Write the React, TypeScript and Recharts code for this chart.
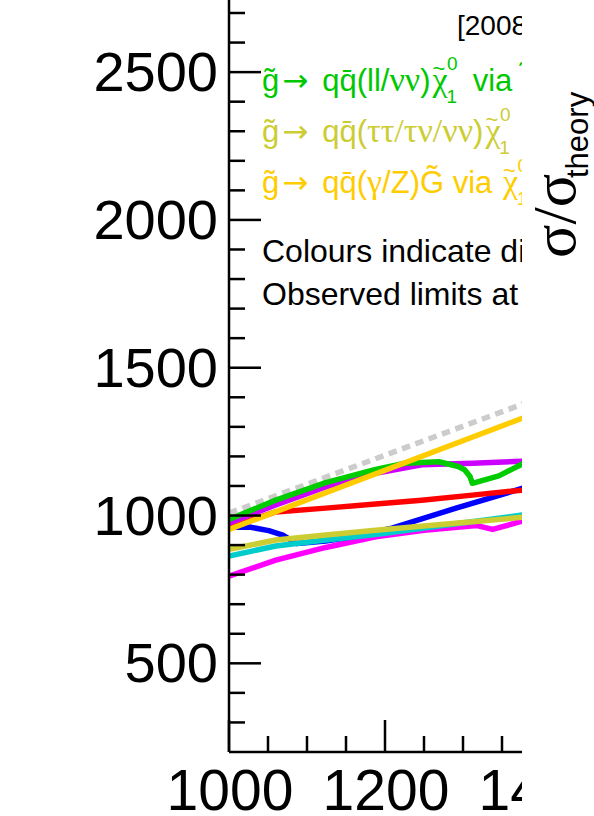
import { LineChart, Line, XAxis, YAxis } from 'recharts'

// limit contours, [x, y]
const grayDiagonal = [[1000, 1008], [1400, 1400]]
const magentaLimit = [[1000, 795], [1060, 849], [1124, 892], [1188, 928], [1250, 950], [1300, 962], [1318, 966], [1338, 953], [1380, 984]]
const blueLimit = [[1000, 960], [1026, 961], [1051, 949], [1069, 934], [1079, 917], [1087, 905], [1124, 914], [1160, 929], [1209, 957], [1290, 1024], [1380, 1095]]
const cyanLimit = [[1000, 863], [1060, 897], [1124, 917], [1188, 936], [1279, 968], [1380, 1003]]
const oliveLimit = [[1000, 886], [1060, 917], [1124, 934], [1188, 950], [1279, 971], [1380, 995]]
const redLimit = [[1000, 955], [1030, 986], [1060, 1012], [1124, 1025], [1188, 1039], [1247, 1052], [1312, 1069], [1380, 1087]]
const purpleLimit = [[1000, 975], [1060, 1036], [1124, 1097], [1188, 1143], [1247, 1172], [1312, 1177], [1380, 1184]]
const greenLimit = [[1000, 987], [1060, 1052], [1124, 1111], [1188, 1156], [1226, 1177], [1269, 1182], [1294, 1166], [1302, 1155], [1309, 1132], [1312, 1109], [1346, 1134], [1380, 1180]]
const yellowLimit = [[1000, 953], [1380, 1333]]

const xMajorTicks = [1000, 1200, 1400, 1600]
const xMinorTicks = [1050, 1100, 1150, 1250, 1300, 1350, 1450, 1500, 1550]
const yMajorTicks = [500, 1000, 1500, 2000, 2500]
const yMinorTicks = [300, 400, 600, 700, 800, 900, 1100, 1200, 1300, 1400, 1600, 1700, 1800, 1900, 2100, 2200, 2300, 2400, 2600, 2700]

const FONT = '"Liberation Sans", Arial, Helvetica, sans-serif'
const SERIF = '"Liberation Serif", "Times New Roman", serif'
const ARROW = '"DejaVu Sans", sans-serif'

const toRows = (pts: number[][]) => pts.map(([x, y]) => ({ x, y }))

const series = [
  { key: 'gray', data: grayDiagonal, color: '#cccccc', dash: '8.5 5.7' },
  { key: 'magenta', data: magentaLimit, color: '#ff00ff' },
  { key: 'blue', data: blueLimit, color: '#0000ff' },
  { key: 'cyan', data: cyanLimit, color: '#00cccc' },
  { key: 'olive', data: oliveLimit, color: '#cccc33' },
  { key: 'red', data: redLimit, color: '#ff0000' },
  { key: 'purple', data: purpleLimit, color: '#cc00ff' },
  { key: 'green', data: greenLimit, color: '#00cc00' },
  { key: 'yellow', data: yellowLimit, color: '#ffcc00' },
]

const YTick = (props: any) => {
  const { x, y, payload } = props
  const major = yMajorTicks.includes(payload.value)
  return (
    <g>
      <line x1={x} x2={x + (major ? 32 : 16)} y1={y} y2={y} stroke="#000" strokeWidth={2.5} />
      {major && (
        <text x={x - 11} y={y + 19} textAnchor="end" fontSize={56} fontFamily={FONT} fill="#000">
          {payload.value}
        </text>
      )}
    </g>
  )
}

const XTick = (props: any) => {
  const { x, y, payload } = props
  const major = xMajorTicks.includes(payload.value)
  return (
    <g>
      <line x1={x} x2={x} y1={y} y2={y - (major ? 32 : 16)} stroke="#000" strokeWidth={2.5} />
      {major && (
        <text x={x + 1} y={y + 58} textAnchor="middle" fontSize={57} fontFamily={FONT} fill="#000">
          {payload.value}
        </text>
      )}
    </g>
  )
}

// g~ -> q qbar
function Head() {
  return (
    <>
      {'g\u0303'}
      <tspan fontFamily={ARROW} dx={3}>{'\u2192'}</tspan>
      <tspan dx={14}>{'qq\u0304('}</tspan>
    </>
  )
}

// chi~ with sub 1 and sup 0, ends back on the baseline
function Chi() {
  return (
    <>
      <tspan fontFamily={SERIF} fontSize={34} dx={2}>χ</tspan>
      <tspan fontSize={22} dx={-15} dy={-15}>~</tspan>
      <tspan fontSize={19} dx={1} dy={27}>1</tspan>
      <tspan fontSize={19} dx={-10} dy={-33}>0</tspan>
    </>
  )
}

export default function App() {
  const xTicks = [...xMajorTicks, ...xMinorTicks].sort((a, b) => a - b)
  const yTicks = [...yMajorTicks, ...yMinorTicks].sort((a, b) => a - b)
  return (
    <div style={{ position: 'absolute', left: 0, top: 0, width: 594, height: 816, background: '#fff', overflow: 'hidden' }}>
      <div style={{ position: 'absolute', left: 0, top: 0, width: 522, height: 816, overflow: 'hidden' }}>
        <LineChart width={736} height={816} margin={{ top: 0, right: 0, left: 0, bottom: 0 }}>
          <XAxis
            type="number"
            dataKey="x"
            domain={[1000, 1650]}
            allowDataOverflow
            ticks={xTicks}
            interval={0}
            height={64}
            tickSize={0}
            tickMargin={0}
            tickLine={false}
            tick={<XTick />}
            axisLine={{ stroke: '#000', strokeWidth: 2.5 }}
          />
          <YAxis
            type="number"
            domain={[200, 2744]}
            allowDataOverflow
            ticks={yTicks}
            interval={0}
            width={229}
            tickSize={0}
            tickMargin={0}
            tickLine={false}
            tick={<YTick />}
            axisLine={{ stroke: '#000', strokeWidth: 2.5 }}
          />
          {series.map((s) => (
            <Line
              key={s.key}
              data={toRows(s.data)}
              dataKey="y"
              type="linear"
              stroke={s.color}
              strokeWidth={5.5}
              strokeDasharray={s.dash}
              strokeLinejoin="round"
              dot={false}
              activeDot={false}
              isAnimationActive={false}
            />
          ))}
        </LineChart>
        <svg width={522} height={816} style={{ position: 'absolute', left: 0, top: 0 }} fontFamily={FONT}>
          <text x={457} y={35} fontSize={28} fill="#000">[2008.06032]</text>
          <text x={262} y={91} fontSize={31} fill="#00c800">
            <Head />
            {'ll/'}
            <tspan fontFamily={SERIF} fontSize={34}>νν</tspan>)
            <Chi />
            <tspan dy={21} dx={15}>{'via l\u0303/\u03bd\u0303'}</tspan>
          </text>
          <text x={262} y={142} fontSize={31} fill="#cccc33">
            <Head />
            <tspan fontFamily={SERIF} fontSize={34}>ττ/τν/νν</tspan>)
            <Chi />
            <tspan dy={21} dx={15}>{'via \u03c4\u0303/\u03bd\u0303'}</tspan>
          </text>
          <text x={262} y={193} fontSize={31} fill="#ffcc00">
            <Head />
            <tspan fontFamily={SERIF} fontSize={34}>γ</tspan>
            {'/Z)G\u0303 via '}
            <Chi />
          </text>
          <text x={262} y={262} fontSize={32} fill="#000">Colours indicate different</text>
          <text x={262} y={305} fontSize={32} fill="#000">Observed limits at 95% CL</text>
        </svg>
      </div>
      <svg width={594} height={816} style={{ position: 'absolute', left: 0, top: 0, pointerEvents: 'none' }}>
        <text transform="translate(575,258) rotate(-90)" fontSize={62} fontFamily={SERIF} fill="#000">σ/σ</text>
        <text transform="translate(588,178) rotate(-90)" fontSize={31} fontFamily={FONT} fill="#000">theory</text>
      </svg>
    </div>
  )
}
